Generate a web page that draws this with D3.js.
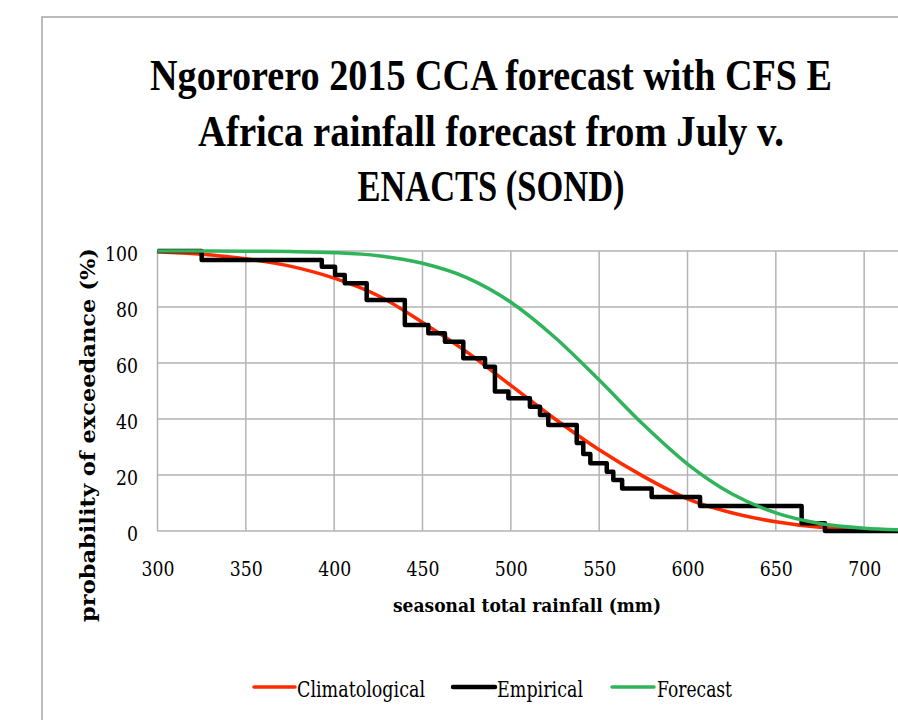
<!DOCTYPE html>
<html><head><meta charset="utf-8">
<script src="https://cdn.jsdelivr.net/npm/d3@7/dist/d3.min.js"></script>
<style>body{margin:0;background:#fff}svg{display:block}</style>
</head><body>
<svg id="c" width="898" height="720"></svg>
<script>
// ---- data ----
const titleLines = ["Ngororero 2015 CCA forecast with CFS E", "Africa rainfall forecast from July v.", "ENACTS (SOND)"];
const xTitle = "seasonal total rainfall (mm)";
const yTitle = "probability of exceedance (%)";
const seriesNames = ["Climatological", "Empirical", "Forecast"];
const xTicks = [300, 350, 400, 450, 500, 550, 600, 650, 700];
const yTicks = [0, 20, 40, 60, 80, 100];

const curveRain = [300, 325, 350, 375, 400, 425, 450, 475, 500, 525, 550, 575, 600, 625, 650, 675, 700, 720];
const climProb  = [99.7, 98.8, 97.2, 94.6, 90.3, 84.0, 74.5, 64.0, 52.0, 40.0, 29.0, 19.5, 11.5, 6.5, 3.3, 1.3, 0.5, 0.2];
const fcstProb  = [100, 100, 99.95, 99.8, 99.4, 98.3, 95.6, 90.5, 81.7, 69.1, 53.9, 38.0, 23.9, 13.3, 6.5, 2.7, 1.0, 0.4];

const empRain = [300, 325, 393, 400.5, 406, 418.4, 440, 453.3, 462.7, 473.1, 485.4, 491, 498.6, 510.8, 516.5, 521.2, 537.3, 541, 545, 554.3, 558, 563, 579.7, 607.1, 664.6, 677.8, 720];
const empProb = [100, 96.8, 94.4, 91.4, 88.5, 82.5, 73.6, 70.6, 67.6, 61.7, 58.7, 49.8, 47.4, 44.4, 41.4, 37.9, 31.4, 27.5, 24.2, 21.2, 18.2, 15.2, 12.1, 8.9, 2.75, 0, 0];

const colors = {clim: "#ff2a00", emp: "#000000", fcst: "#2fb35b"};

// ---- drawing ----
const svg = d3.select("#c");
const serif = "'DejaVu Serif', 'Liberation Serif', serif";
const titleFont = "'Liberation Serif', 'DejaVu Serif', serif";

const x = d3.scaleLinear().domain([300, 720]).range([157.5, 899.5]);
const y = d3.scaleLinear().domain([0, 100]).range([531, 251]);

// outer frame
svg.append("path").attr("d", "M42,720 L42,17 L898,17")
  .attr("fill", "none").attr("stroke", "#a6a6a6").attr("stroke-width", 1.5);

// title
const tl = [682, 586, 267], tb = [90, 146, 201];
titleLines.forEach((t, i) => {
  svg.append("text").attr("transform", `translate(491,${tb[i]}) scale(1,1.1)`).attr("text-anchor", "middle")
    .attr("font-family", titleFont).attr("font-weight", "bold").attr("font-size", 40)
    .attr("textLength", tl[i]).attr("lengthAdjust", "spacingAndGlyphs").text(t);
});

// grid
const g = svg.append("g");
g.selectAll("line.h").data(yTicks).join("line")
  .attr("x1", x(300)).attr("x2", 898).attr("y1", d => y(d)).attr("y2", d => y(d))
  .attr("stroke", "#b3b3b3").attr("stroke-width", 1.5);
g.selectAll("line.v").data(xTicks).join("line")
  .attr("x1", d => x(d)).attr("x2", d => x(d)).attr("y1", y(100)).attr("y2", y(0))
  .attr("stroke", "#b3b3b3").attr("stroke-width", 1.5);

// axes (labels only)
const lenFor = s => s.length * 11;
const xAxis = d3.axisBottom(x).tickValues(xTicks).tickSize(0).tickPadding(0);
const xa = svg.append("g").attr("transform", `translate(0,${y(0)})`).call(xAxis);
xa.select(".domain").remove();
xa.selectAll("text").attr("dy", null).attr("y", 45)
  .attr("font-family", serif).attr("font-size", 20).attr("fill", "#000")
  .attr("textLength", d => lenFor(String(d))).attr("lengthAdjust", "spacingAndGlyphs");

const yAxis = d3.axisLeft(y).tickValues(yTicks).tickSize(0).tickPadding(0);
const ya = svg.append("g").attr("transform", `translate(138,0)`).call(yAxis);
ya.select(".domain").remove();
ya.selectAll("text").attr("dy", "0.32em").attr("y", 3).attr("x", 0)
  .attr("font-family", serif).attr("font-size", 20).attr("fill", "#000")
  .attr("textLength", d => lenFor(String(d))).attr("lengthAdjust", "spacingAndGlyphs");

// axis titles
svg.append("text").attr("x", 527).attr("y", 612).attr("text-anchor", "middle")
  .attr("font-family", serif).attr("font-weight", "bold").attr("font-size", 19)
  .attr("textLength", 268).attr("lengthAdjust", "spacingAndGlyphs").text(xTitle);
svg.append("text").attr("transform", "translate(95,435) rotate(-90)").attr("text-anchor", "middle")
  .attr("font-family", serif).attr("font-weight", "bold").attr("font-size", 21)
  .attr("textLength", 374).attr("lengthAdjust", "spacingAndGlyphs").text(yTitle);

// series
const smooth = d3.line().x(d => x(d[0])).y(d => y(d[1])).curve(d3.curveMonotoneX);
const step = d3.line().x(d => x(d[0])).y(d => y(d[1])).curve(d3.curveStepAfter);

svg.append("path").datum(d3.zip(curveRain, climProb)).attr("d", smooth)
  .attr("fill", "none").attr("stroke", colors.clim).attr("stroke-width", 3.5);
svg.append("path").datum(d3.zip(empRain, empProb)).attr("d", step)
  .attr("fill", "none").attr("stroke", colors.emp).attr("stroke-width", 4.5).attr("stroke-linejoin", "round");
svg.append("path").datum(d3.zip(curveRain, fcstProb)).attr("d", smooth)
  .attr("fill", "none").attr("stroke", colors.fcst).attr("stroke-width", 3.5);

// legend
const leg = [
  {name: seriesNames[0], c: colors.clim, x1: 254, x2: 295, tx: 297, tl: 128, w: 3.5},
  {name: seriesNames[1], c: colors.emp, x1: 453, x2: 495, tx: 497, tl: 86, w: 4.5},
  {name: seriesNames[2], c: colors.fcst, x1: 612, x2: 654, tx: 657, tl: 75, w: 3.5}
];
leg.forEach(l => {
  svg.append("line").attr("x1", l.x1).attr("x2", l.x2).attr("y1", 687).attr("y2", 687)
    .attr("stroke", l.c).attr("stroke-width", l.w).attr("stroke-linecap", "round");
  svg.append("text").attr("x", l.tx).attr("y", 697)
    .attr("font-family", serif).attr("font-size", 22)
    .attr("textLength", l.tl).attr("lengthAdjust", "spacingAndGlyphs").text(l.name);
});
</script>
</body></html>
